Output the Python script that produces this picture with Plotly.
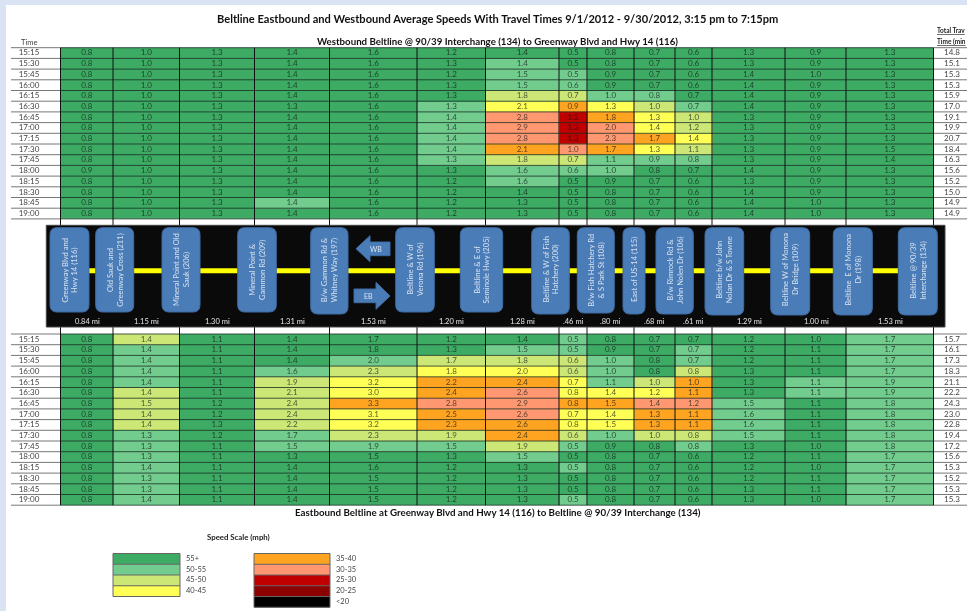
import plotly.graph_objects as go

# ---------- data ----------
time_labels = ["15:15","15:30","15:45","16:00","16:15","16:30","16:45","17:00",
               "17:15","17:30","17:45","18:00","18:15","18:30","18:45","19:00"]
segment_miles = ["0.84 mi","1.15 mi","1.30 mi","1.31 mi","1.53 mi","1.20 mi","1.28 mi",
                 ".46 mi",".80 mi",".68 mi",".61 mi","1.29 mi","1.00 mi","1.53 mi"]
station_names = ["Greenway Blvd and<br>Hwy 14 (116)","Old Sauk and<br>Greenway Cross (211)",
                 "Mineral Point and Old<br>Sauk (206)","Mineral Point &<br>Gammon Rd (209)",
                 "B/w Gammon Rd &<br>Whitney Way (197)","Beltline & W of<br>Verona Rd (196)",
                 "Beltline & E of<br>Seminole Hwy (205)","Beltline & W of Fish<br>Hatchery (200)",
                 "B/w Fish Hatchery Rd<br>& S Park St (108)","East of US-14 (115)",
                 "B/w Rimrock Rd &<br>John Nolen Dr (106)","Beltline b/w John<br>Nolan Dr & S Towne",
                 "Beltline W of Monona<br>Dr Bridge (109)","Beltline  E of Monona<br>Dr (198)",
                 "Beltline @ 90/39<br>Interchange (134)"]
speed_bands = ["55+","50-55","45-50","40-45","35-40","30-35","25-30","20-25","<20"]
band_colors = ["#3dab64","#72cc8e","#cde777","#ffff55","#ffa420","#ff9871","#c00000","#8b0000","#000000"]

wb_total = [14.8,15.1,15.3,15.3,15.9,17.0,19.1,19.9,20.7,18.4,16.3,15.6,15.2,15.0,14.9,14.9]
eb_total = [15.7,16.1,17.3,18.3,21.1,22.2,24.3,23.0,22.8,19.4,17.2,15.6,15.3,15.2,15.3,15.3]

# travel minutes, one list per road segment
wb_minutes = [
 [.8,.8,.8,.8,.8,.8,.8,.8,.8,.8,.8,.9,.8,.8,.8,.8],
 [1.0]*16,
 [1.3]*16,
 [1.4,1.4,1.4,1.4,1.4,1.3,1.4,1.4,1.4,1.4,1.4,1.4,1.4,1.4,1.4,1.4],
 [1.6]*16,
 [1.2,1.3,1.2,1.3,1.3,1.3,1.4,1.4,1.4,1.4,1.3,1.3,1.2,1.2,1.2,1.2],
 [1.4,1.4,1.5,1.5,1.8,2.1,2.8,2.9,2.8,2.1,1.8,1.6,1.6,1.4,1.3,1.3],
 [.5,.5,.5,.6,.7,.9,1.2,1.3,1.3,1.0,.7,.6,.5,.5,.5,.5],
 [.8,.8,.9,.9,1.0,1.3,1.8,2.0,2.3,1.7,1.1,1.0,.9,.8,.8,.8],
 [.7,.7,.7,.7,.8,1.0,1.3,1.4,1.7,1.3,.9,.8,.7,.7,.7,.7],
 [.6,.6,.6,.6,.7,.7,1.0,1.2,1.4,1.1,.8,.7,.6,.6,.6,.6],
 [1.3,1.3,1.4,1.4,1.4,1.4,1.3,1.3,1.3,1.3,1.3,1.4,1.3,1.4,1.4,1.4],
 [.9,.9,1.0,.9,.9,.9,.9,.9,.9,.9,.9,.9,.9,.9,1.0,1.0],
 [1.3,1.3,1.3,1.3,1.3,1.3,1.3,1.3,1.3,1.5,1.4,1.3,1.3,1.3,1.3,1.3],
]
# speed band index (into speed_bands), one list per road segment
wb_band = [
 [0]*16,[0]*16,[0]*16,
 [0,0,0,0,0,0,0,0,0,0,0,0,0,0,1,0],
 [0]*16,
 [0,0,0,0,0,1,1,1,1,1,1,0,0,0,0,0],
 [0,1,1,1,2,3,5,5,5,4,2,1,1,0,0,0],
 [0,0,1,1,2,4,6,6,6,5,2,1,0,0,0,0],
 [0,0,0,0,1,3,4,5,5,4,1,1,0,0,0,0],
 [0,0,0,0,1,2,3,3,4,3,1,0,0,0,0,0],
 [0,0,0,0,0,1,2,2,3,2,1,0,0,0,0,0],
 [0]*16,[0]*16,[0]*16,
]
eb_minutes = [
 [.8]*16,
 [1.4,1.4,1.4,1.4,1.4,1.4,1.5,1.4,1.4,1.3,1.3,1.3,1.4,1.3,1.3,1.4],
 [1.1,1.1,1.1,1.1,1.1,1.1,1.2,1.2,1.3,1.2,1.1,1.1,1.1,1.1,1.1,1.1],
 [1.4,1.4,1.4,1.6,1.9,2.1,2.4,2.4,2.2,1.7,1.5,1.3,1.4,1.4,1.4,1.4],
 [1.7,1.8,2.0,2.3,3.2,3.0,3.3,3.1,3.2,2.3,1.9,1.5,1.6,1.5,1.5,1.5],
 [1.2,1.3,1.7,1.8,2.2,2.4,2.8,2.5,2.3,1.9,1.5,1.3,1.2,1.2,1.2,1.2],
 [1.4,1.5,1.8,2.0,2.4,2.6,2.9,2.6,2.6,2.4,1.9,1.5,1.3,1.3,1.3,1.3],
 [.5,.5,.6,.6,.7,.8,.8,.7,.8,.6,.5,.5,.5,.5,.5,.5],
 [.8,.9,1.0,1.0,1.1,1.4,1.5,1.4,1.5,1.0,.9,.8,.8,.8,.8,.8],
 [.7,.7,.8,.8,1.0,1.2,1.4,1.3,1.3,1.0,.8,.7,.7,.7,.7,.7],
 [.7,.7,.7,.8,1.0,1.1,1.2,1.1,1.1,.8,.8,.6,.6,.6,.6,.6],
 [1.2,1.2,1.2,1.3,1.3,1.3,1.5,1.6,1.6,1.5,1.3,1.2,1.2,1.2,1.3,1.3],
 [1.0,1.1,1.1,1.1,1.1,1.1,1.1,1.1,1.1,1.1,1.0,1.1,1.0,1.1,1.1,1.0],
 [1.7,1.7,1.7,1.7,1.9,1.9,1.8,1.8,1.8,1.8,1.8,1.7,1.7,1.7,1.7,1.7],
]
eb_band = [
 [0]*16,
 [2,1,1,1,1,2,2,2,2,1,1,1,1,1,1,1],
 [0]*16,
 [0,0,0,1,2,2,2,2,2,1,1,0,0,0,0,0],
 [0,0,1,2,3,3,4,3,3,2,1,0,0,0,0,0],
 [0,0,2,3,4,4,5,4,4,2,1,0,0,0,0,0],
 [0,1,2,3,4,5,5,5,4,4,2,1,0,0,0,0],
 [1,1,2,2,3,3,4,3,3,2,1,0,1,0,0,1],
 [0,0,1,1,1,3,4,3,3,1,0,0,0,0,0,0],
 [0,0,0,0,2,3,5,4,4,2,0,0,0,0,0,0],
 [0,1,1,2,4,4,5,4,4,2,1,0,0,0,0,0],
 [0,0,0,0,0,0,1,1,1,1,0,0,0,0,0,0],
 [0,0,0,0,1,1,0,0,0,0,0,0,0,0,0,0],
 [1]*16,
]

# ---------- layout constants (page pixels) ----------
W, H = 967, 611
column_edges = [60.5,113,179.5,254.5,329.5,417,485.5,559,587,634,675,712,785,846,933.5]
WB_TOP, EB_TOP, ROW_H = 47.7, 334.0, 10.7
label_x, total_x = 29, 952
TEXT_NUDGE = 0.4
ink = "rgba(15,25,20,0.72)"
FONT = "Lato"

def row_edges(top):
    return [top + i * ROW_H for i in range(len(time_labels) + 1)]
def row_mid(top):
    return [top + (i + .5) * ROW_H + TEXT_NUDGE for i in range(len(time_labels))]
def by_row(cols):
    return [list(r) for r in zip(*cols)]

n = len(band_colors)
scale = []
for i, c in enumerate(band_colors):
    scale += [[i / n, c], [(i + 1) / n, c]]

fig = go.Figure()
col_mid = [(a + b) / 2 for a, b in zip(column_edges, column_edges[1:])]

def band_table(top, bands, minutes, totals):
    fig.add_trace(go.Heatmap(
        x=column_edges, y=row_edges(top), z=by_row(bands),
        colorscale=scale, zmin=-.5, zmax=n - .5, showscale=False, hoverinfo="skip"))
    mids = row_mid(top)
    xs, ys, txt = [], [], []
    for cx, col in zip(col_mid, minutes):
        for y, v in zip(mids, col):
            xs.append(cx); ys.append(y); txt.append(f"{v:.1f}")
    fig.add_trace(go.Scatter(x=xs, y=ys, text=txt, mode="text",
                             textfont=dict(family=FONT, size=8, color=ink), hoverinfo="skip"))
    fig.add_trace(go.Scatter(x=[label_x] * 16, y=mids, text=time_labels, mode="text",
                             textfont=dict(family=FONT, size=8, color="#444"), hoverinfo="skip"))
    fig.add_trace(go.Scatter(x=[total_x] * 16, y=mids, text=[f"{v:.1f}" for v in totals],
                             mode="text", textfont=dict(family=FONT, size=8, color="#444"), hoverinfo="skip"))

band_table(WB_TOP, wb_band, wb_minutes, wb_total)
band_table(EB_TOP, eb_band, eb_minutes, eb_total)

# legend swatches, drawn with the same colour scale
def legend(x0, x1, top, idx):
    edges = [top + i * 10.75 for i in range(len(idx) + 1)]
    fig.add_trace(go.Heatmap(x=[x0, x1], y=edges, z=[[i] for i in idx], colorscale=scale,
                             zmin=-.5, zmax=n - .5, showscale=False, hoverinfo="skip"))
    fig.add_trace(go.Scatter(x=[x1 + 6] * len(idx), y=[e + 5.4 for e in edges[:-1]],
                             text=[speed_bands[i] for i in idx], mode="text", textposition="middle right",
                             textfont=dict(family=FONT, size=7.5, color="#444"), hoverinfo="skip"))
    return edges

left_leg = legend(113, 180, 553.5, [0, 1, 2, 3])
right_leg = legend(254, 330, 553.5, [4, 5, 6, 7, 8])

# ---------- shapes ----------
shapes = [dict(type="rect", x0=6, x1=W + 5, y0=5, y1=H + 5, fillcolor="white", line_width=0, layer="below")]

def line(x0, y0, x1, y1, color="#111", width=1):
    shapes.append(dict(type="line", x0=x0, x1=x1, y0=y0, y1=y1, line=dict(color=color, width=width)))

for top in (WB_TOP, EB_TOP):
    for y in row_edges(top):
        line(11, y, 60.5, y, "#777", 1)
        line(60.5, y, 933.5, y, "rgba(25,45,35,0.8)", 1)
        line(933.5, y, W, y, "#777", 1)
for x in column_edges:
    line(x, WB_TOP, x, 226)
    line(x, 326, x, EB_TOP + 16 * ROW_H)

# road diagram
shapes.append(dict(type="rect", x0=46.3, x1=945, y0=225.3, y1=327, fillcolor="#0a0a0a",
                   line=dict(color="#444", width=1)))
shapes.append(dict(type="rect", x0=89, x1=898, y0=268.2, y1=273.2, fillcolor="#ffff00", line_width=0))

def rounded(x0, x1, y0, y1, r=7):
    return (f"M{x0+r},{y0} L{x1-r},{y0} Q{x1},{y0} {x1},{y0+r} L{x1},{y1-r} Q{x1},{y1} {x1-r},{y1} "
            f"L{x0+r},{y1} Q{x0},{y1} {x0},{y1-r} L{x0},{y0+r} Q{x0},{y0} {x0+r},{y0} Z")

boxes = [(50,89,312),(95.7,133.7,312),(162,200,312),(237.7,276.3,312),(310.7,348,314),
         (395.7,434.3,312),(460.3,502.7,312),(531.7,569.3,314),(577.3,614.3,313),(623,645,314),
         (656,693.3,314),(705,743.7,315),(770.7,809.7,315),(833.3,872.3,315),(898.3,937.3,315)]
annotations = []
def note(x, y, text, size=7.5, color="#444", bold=False, angle=0, anchor="center"):
    annotations.append(dict(x=x, y=y, xref="x", yref="y", text=f"<b>{text}</b>" if bold else text,
                            showarrow=False, textangle=angle, xanchor=anchor, yanchor="middle",
                            font=dict(family=FONT, size=size, color=color)))

for (x0, x1, y1), name in zip(boxes, station_names):
    shapes.append(dict(type="path", path=rounded(x0, x1, 227.7, y1), fillcolor="#4a7cb8",
                       line=dict(color="#3f6ca3", width=1)))
    note((x0 + x1) / 2, 270, name, size=7.6, color="rgba(255,255,255,0.78)", angle=-90)

shapes.append(dict(type="path", fillcolor="#4a7cb8", line=dict(color="#3f6ca3", width=1),
                   path="M356,248.7 L370,235.7 L370,242 L390,242 L390,255.7 L370,255.7 L370,261.7 Z"))
shapes.append(dict(type="path", fillcolor="#4a7cb8", line=dict(color="#3f6ca3", width=1),
                   path="M390,296 L376,282.3 L376,289 L354,289 L354,302.7 L376,302.7 L376,309.3 Z"))
note(376, 249, "WB", size=7, color="rgba(255,255,255,0.8)")
note(368.5, 296, "EB", size=7, color="rgba(255,255,255,0.8)")

mile_x = [87,146.7,217,292,373,451,522,573,610.7,654.7,693.7,749,816,890]
for x, m in zip(mile_x, segment_miles):
    note(x, 321.7, m, size=7.5, color="#e6e6e6")

# headings
note(497.5, 18, "Beltline Eastbound and Westbound Average Speeds With Travel Times 9/1/2012 - 9/30/2012, 3:15 pm to 7:15pm",
     size=11.1, color="#111", bold=True)
note(497.5, 41, "Westbound Beltline @ 90/39 Interchange (134) to Greenway Blvd and Hwy 14 (116)", size=9.7, color="#111", bold=True)
note(498, 511.5, "Eastbound Beltline at Greenway Blvd and Hwy 14 (116) to Beltline @ 90/39 Interchange (134)", size=9.75, color="#111", bold=True)
note(29, 42, "Time", size=7.5)
note(935, 30, "<u><b>Total Trav</b></u>", size=6.5, color="#222", anchor="left")
note(935, 41, "<u><b>Time (min</b></u>", size=6.5, color="#222", anchor="left")
note(238.5, 537, "Speed Scale (mph)", size=7.8, color="#222", bold=True)

# legend outlines and separators
for x0, x1, edges in ((113, 180, left_leg), (254, 330, right_leg)):
    shapes.append(dict(type="rect", x0=x0, x1=x1, y0=edges[0], y1=edges[-1], line=dict(color="#666", width=1)))
    for y in edges[1:-1]:
        line(x0, y, x1, y, "#666", 1)

fig.update_layout(
    width=W, height=H, margin=dict(l=0, r=0, t=0, b=0), showlegend=False,
    paper_bgcolor="#d9e3f3", plot_bgcolor="rgba(0,0,0,0)",
    xaxis=dict(range=[0, W], visible=False, fixedrange=True),
    yaxis=dict(range=[H, 0], visible=False, fixedrange=True),
    shapes=shapes, annotations=annotations,
)
fig.write_html("out.html", config=dict(displayModeBar=False),
               post_script="document.body.style.margin='0';document.body.style.overflow='hidden';"
                           "document.getElementById('{plot_id}').style.filter='blur(0.45px)';")
